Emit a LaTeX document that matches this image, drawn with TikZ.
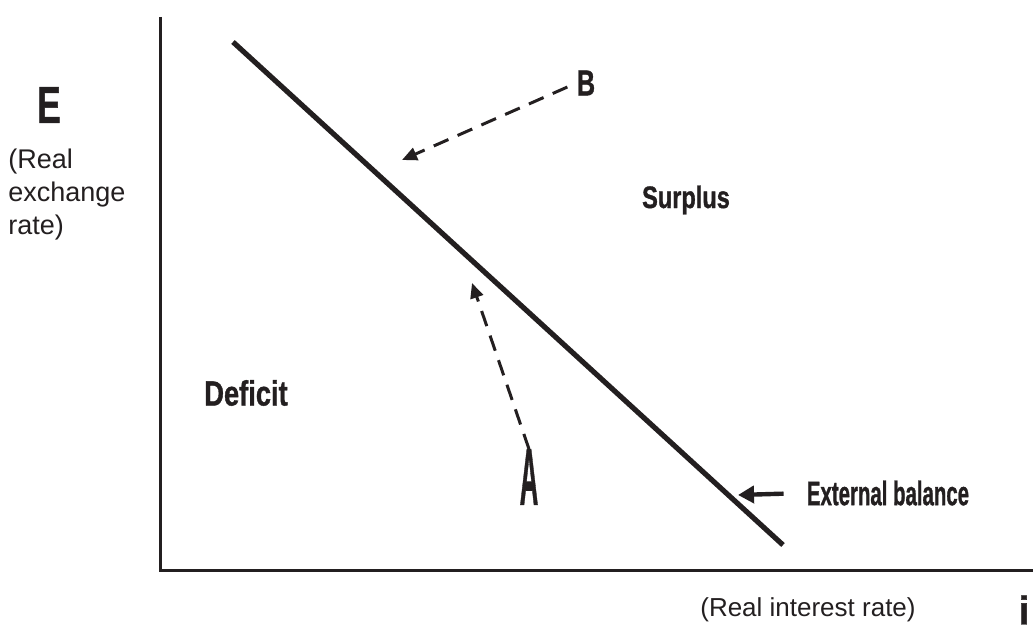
\documentclass[tikz,border=0pt]{standalone}
\usepackage{fontspec}
\setmainfont{Liberation Sans}
\newfontfamily\heavysans{Liberation Sans Bold}[FakeBold=1.2]
\usepackage{graphicx}
\usetikzlibrary{arrows.meta}
\definecolor{inkc}{HTML}{231F20}
\newcommand{\narrowtxt}[3]{\fontsize{#2}{#2}\selectfont\heavysans\scalebox{#1}[1]{#3}}

\begin{document}
\begin{tikzpicture}[x=0.5pt,y=-0.5pt,
  axisline/.style={inkc,line width=1.5pt},
  balanceline/.style={inkc,line width=2.6pt},
  moveline/.style={inkc,line width=1.5pt,dash pattern=on 8pt off 5pt,-{Triangle[length=7.5pt,width=6.5pt]}},
  lbl/.style={inner sep=0pt,text=inkc}]
  \useasboundingbox (0,0) rectangle (1033,630);
  % axes
  \coordinate (origin) at (160,570);
  \coordinate (ytop) at (160,17);
  \coordinate (xend) at (1033,570);
  \draw[axisline] (ytop) -- (origin) -- (xend);
  % axis labels
  \node[lbl] (E) at (49,105) {\narrowtxt{0.68}{26pt}{E}};
  \node[lbl,anchor=west,align=left,font=\fontsize{13.5pt}{16.5pt}\selectfont] (Elab) at (8,195) {(Real\\exchange\\rate)};
  \node[lbl,font=\fontsize{13pt}{13pt}\selectfont] (xlab) at (808,610) {(Real interest rate)};
  \node[lbl] (ilab) at (1024,610) {\fontsize{20pt}{20pt}\selectfont\heavysans i};
  % external balance schedule
  \coordinate (eb1) at (233,42);
  \coordinate (eb2) at (783,545);
  \draw[balanceline] (eb1) -- (eb2);
  % regions
  \node[lbl] (surplus) at (686,200) {\narrowtxt{0.76}{15.5pt}{Surplus}};
  \node[lbl] (deficit) at (246,393) {\narrowtxt{0.78}{17.5pt}{Deficit}};
  \node[lbl] (ext) at (888,493) {\narrowtxt{0.6}{17pt}{External balance}};
  \coordinate (extt) at (738,495);
  \draw[inkc,line width=2.2pt,shorten <=11.5pt,-{Triangle[length=8pt,width=8.5pt]}] (ext.west) -- (extt);
  % points off the schedule
  \node[lbl] (B) at (586,83) {\narrowtxt{0.7}{18pt}{B}};
  \coordinate (Bt) at (402,160);
  \draw[moveline,shorten <=5pt] (B.west) -- (Bt);
  \node[lbl] (A) at (529,477) {\narrowtxt{0.32}{40pt}{A}};
  \coordinate (At) at (472,283);
  \draw[moveline] (A.north) -- (At);
\end{tikzpicture}
\end{document}
